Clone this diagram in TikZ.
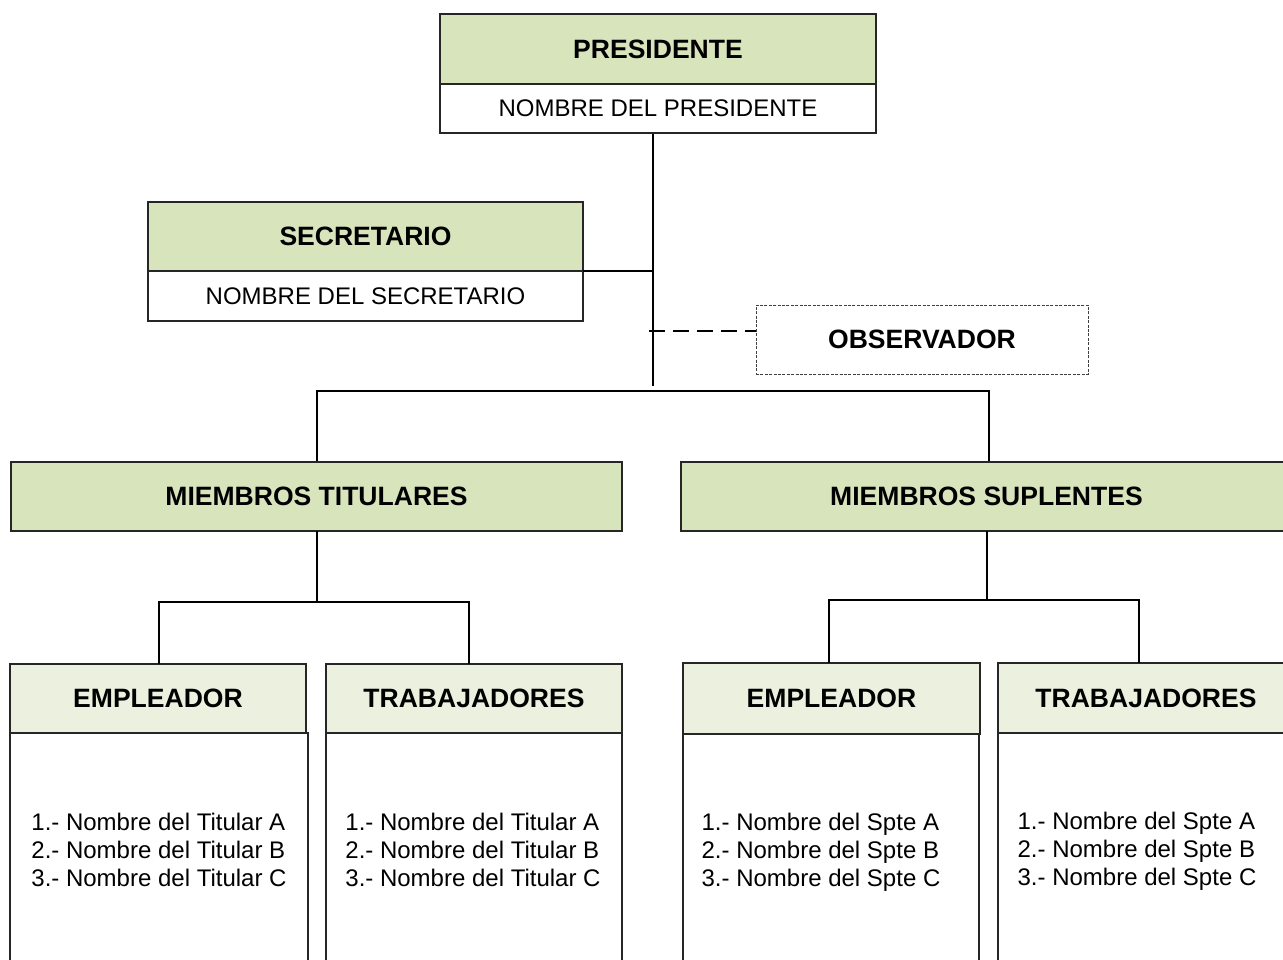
\documentclass[tikz,border=0pt]{standalone}
\usepackage{fontspec}
\setmainfont{Liberation Sans}
\definecolor{hdrA}{HTML}{D8E4BC}
\definecolor{hdrB}{HTML}{EBF1DE}
\tikzset{
  px/.style 2 args={minimum width=#1*0.75pt, minimum height=#2*0.75pt},
  box/.style={rectangle, draw=black!85, line width=0.8pt, inner sep=0pt, outer sep=0pt},
  topbox/.style={box, fill=hdrA, font=\fontsize{19.9}{23}\selectfont\bfseries},
  subbox/.style={box, fill=hdrB, font=\fontsize{19.9}{23}\selectfont\bfseries},
  namebox/.style={box, fill=white, font=\fontsize{18}{21}\selectfont},
  bodybox/.style={box, fill=white},
  bodytext/.style={inner sep=0pt, font=\fontsize{18}{21}\selectfont, align=left},
  obsbox/.style={rectangle, draw=black!75, line width=0.6pt, dash pattern=on 2.2pt off 1.1pt, inner sep=0pt, outer sep=0pt, fill=white, font=\fontsize{19.9}{23}\selectfont\bfseries},
  conn/.style={line width=1.5pt, black},
  dashconn/.style={line width=1.5pt, black, dash pattern=on 12pt off 6pt}
}
\begin{document}
\begin{tikzpicture}[x=0.75pt,y=-0.75pt]
\useasboundingbox (0,0) rectangle (1283,960);
\clip (0,0) rectangle (1283,960);
\fill[white] (0,0) rectangle (1283,960);

% coordinates for connector routing
\coordinate (trunkX) at (653,0);
\coordinate (trunkEnd) at (653,386);
\coordinate (barL) at (317,391);
\coordinate (barR) at (989,391);
\coordinate (odash) at (649,331);
\coordinate (tX) at (317,0);
\coordinate (tbL) at (159,602);
\coordinate (tbR) at (469,602);
\coordinate (sX) at (987,0);
\coordinate (sbL) at (829,600);
\coordinate (sbR) at (1139,600);

% connectors (drawn first, boxes on top)
\draw[conn] (trunkX |- 0,133) -- (trunkEnd);
\draw[conn] (barL |- 0,531) -- (barL) -- (barR) -- (barR |- 0,462);

% boxes
\node[topbox, px={436}{70}] (pres) at (658,49) {PRESIDENTE};
\node[namebox, px={436}{49}] (presname) at (658,108.5) {NOMBRE DEL PRESIDENTE};
\node[topbox, px={435}{69}] (sec) at (365.5,236.5) {SECRETARIO};
\node[namebox, px={435}{50}] (secname) at (365.5,296) {NOMBRE DEL SECRETARIO};
\node[obsbox, px={332}{69}] (obs) at (922,339.5) {OBSERVADOR};

\node[topbox, px={611}{69}] (tit) at (316.5,496.5) {MIEMBROS TITULARES};
\node[topbox, px={611}{69}] (sup) at (986.5,496.5) {MIEMBROS SUPLENTES};

\node[subbox, px={296}{69}] (emp1) at (158,698.5) {EMPLEADOR};
\node[bodybox, px={298}{234}] (body1) at (159,850) {};
\node[bodytext] (txt1) at (159,850) {1.- Nombre del Titular A\\2.- Nombre del Titular B\\3.- Nombre del Titular C};
\node[subbox, px={296}{69}] (trab1) at (474,698.5) {TRABAJADORES};
\node[bodybox, px={296}{234}] (body2) at (474,850) {};
\node[bodytext] (txt2) at (473,850) {1.- Nombre del Titular A\\2.- Nombre del Titular B\\3.- Nombre del Titular C};

\node[subbox, px={297}{71}] (emp2) at (831.5,698.5) {EMPLEADOR};
\node[bodybox, px={296}{234}] (body3) at (831,851) {};
\node[bodytext] (txt3) at (821,852) {1.- Nombre del Spte A\\2.- Nombre del Spte B\\3.- Nombre del Spte C};
\node[subbox, px={296}{70}] (trab2) at (1146,698) {TRABAJADORES};
\node[bodybox, px={296}{234}] (body4) at (1146,850) {};
\node[bodytext] (txt4) at (1137,851.5) {1.- Nombre del Spte A\\2.- Nombre del Spte B\\3.- Nombre del Spte C};

% connectors between named nodes
\draw[conn] (secname.north east) -- (secname.north east -| trunkX);
\draw[dashconn] (odash) -- (odash -| obs.west);
\draw[conn] (tit.south -| tX) -- (tX |- tbL) ;
\draw[conn] (emp1.north -| tbL) -- (tbL) -- (tbR) -- (trab1.north -| tbR);
\draw[conn] (sup.south -| sX) -- (sX |- sbL);
\draw[conn] (emp2.north -| sbL) -- (sbL) -- (sbR) -- (trab2.north -| sbR);
\end{tikzpicture}
\end{document}
